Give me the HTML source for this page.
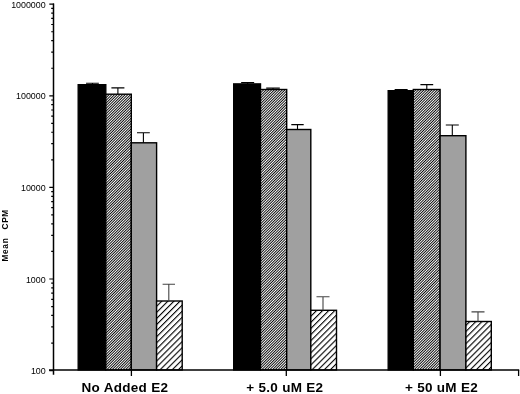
<!DOCTYPE html>
<html><head><meta charset="utf-8"><style>html,body{margin:0;padding:0;background:#fff;width:520px;height:394px;overflow:hidden}svg{display:block;will-change:transform}text{font-family:"Liberation Sans",sans-serif}</style></head>
<body><svg width="520" height="394" viewBox="0 0 520 394"><defs>
<pattern id="fine" patternUnits="userSpaceOnUse" width="1.89" height="1.89" patternTransform="rotate(45)"><rect x="0" y="0" width="0.92" height="1.89" fill="#000"/></pattern>
<pattern id="wide" patternUnits="userSpaceOnUse" width="4.3" height="4.3" patternTransform="rotate(45)"><rect x="0" y="0" width="1.1" height="4.3" fill="#000"/></pattern>
</defs>
<rect x="78.20" y="84.70" width="27.60" height="285.25" fill="#fff"/>
<rect x="78.20" y="84.70" width="27.60" height="285.25" fill="#000" stroke="#000" stroke-width="1.4"/>
<rect x="105.80" y="94.20" width="25.50" height="275.75" fill="#fff"/>
<rect x="105.80" y="94.20" width="25.50" height="275.75" fill="url(#fine)" stroke="#000" stroke-width="1.4"/>
<rect x="131.30" y="142.80" width="25.30" height="227.15" fill="#fff"/>
<rect x="131.30" y="142.80" width="25.30" height="227.15" fill="#a0a0a0" stroke="#000" stroke-width="1.4"/>
<rect x="156.60" y="301.00" width="25.60" height="68.95" fill="#fff"/>
<rect x="156.60" y="301.00" width="25.60" height="68.95" fill="url(#wide)" stroke="#000" stroke-width="1.4"/>
<rect x="233.70" y="83.90" width="26.80" height="286.05" fill="#fff"/>
<rect x="233.70" y="83.90" width="26.80" height="286.05" fill="#000" stroke="#000" stroke-width="1.4"/>
<rect x="260.50" y="89.50" width="26.20" height="280.45" fill="#fff"/>
<rect x="260.50" y="89.50" width="26.20" height="280.45" fill="url(#fine)" stroke="#000" stroke-width="1.4"/>
<rect x="286.70" y="129.50" width="24.10" height="240.45" fill="#fff"/>
<rect x="286.70" y="129.50" width="24.10" height="240.45" fill="#a0a0a0" stroke="#000" stroke-width="1.4"/>
<rect x="310.80" y="310.30" width="25.70" height="59.65" fill="#fff"/>
<rect x="310.80" y="310.30" width="25.70" height="59.65" fill="url(#wide)" stroke="#000" stroke-width="1.4"/>
<rect x="388.20" y="90.70" width="25.10" height="279.25" fill="#fff"/>
<rect x="388.20" y="90.70" width="25.10" height="279.25" fill="#000" stroke="#000" stroke-width="1.4"/>
<rect x="413.30" y="89.50" width="26.80" height="280.45" fill="#fff"/>
<rect x="413.30" y="89.50" width="26.80" height="280.45" fill="url(#fine)" stroke="#000" stroke-width="1.4"/>
<rect x="440.10" y="135.70" width="25.80" height="234.25" fill="#fff"/>
<rect x="440.10" y="135.70" width="25.80" height="234.25" fill="#a0a0a0" stroke="#000" stroke-width="1.4"/>
<rect x="465.90" y="321.50" width="25.40" height="48.45" fill="#fff"/>
<rect x="465.90" y="321.50" width="25.40" height="48.45" fill="url(#wide)" stroke="#000" stroke-width="1.4"/>
<path d="M92.45 84.70V83.20M86.05 83.20H98.85" stroke="#000" stroke-width="1.1" fill="none"/>
<path d="M117.90 94.20V87.90M111.40 87.90H124.40" stroke="#000" stroke-width="1.1" fill="none"/>
<path d="M143.40 142.80V132.80M137.00 132.80H149.80" stroke="#000" stroke-width="1.1" fill="none"/>
<path d="M168.80 301.00V284.30M162.60 284.30H175.00" stroke="#444" stroke-width="1.1" fill="none"/>
<path d="M247.65 83.90V82.60M241.15 82.60H254.15" stroke="#000" stroke-width="1.1" fill="none"/>
<path d="M273.00 89.50V88.10M266.20 88.10H279.80" stroke="#000" stroke-width="1.1" fill="none"/>
<path d="M297.50 129.50V124.60M291.30 124.60H303.70" stroke="#000" stroke-width="1.1" fill="none"/>
<path d="M323.00 310.30V296.80M316.50 296.80H329.50" stroke="#444" stroke-width="1.1" fill="none"/>
<path d="M401.15 90.70V89.50M394.65 89.50H407.65" stroke="#000" stroke-width="1.1" fill="none"/>
<path d="M426.80 89.50V84.60M420.40 84.60H433.20" stroke="#000" stroke-width="1.1" fill="none"/>
<path d="M452.30 135.70V125.00M445.80 125.00H458.80" stroke="#000" stroke-width="1.1" fill="none"/>
<path d="M478.00 321.50V311.90M471.50 311.90H484.50" stroke="#444" stroke-width="1.1" fill="none"/>
<path d="M53.5 3.6V374.8" stroke="#000" stroke-width="1.5" fill="none"/>
<path d="M49.0 369.95H519.2" stroke="#000" stroke-width="1.5" fill="none"/>
<path d="M131.4 369.95V376" stroke="#000" stroke-width="1.3" fill="none"/>
<path d="M286.3 369.95V376" stroke="#000" stroke-width="1.3" fill="none"/>
<path d="M440.4 369.95V376" stroke="#000" stroke-width="1.3" fill="none"/>
<path d="M518.6 369.95V376" stroke="#000" stroke-width="1.3" fill="none"/>
<path d="M49.3 370.60H54M51.2 343.03H54M51.2 326.90H54M51.2 315.45H54M51.2 306.57H54M51.2 299.32H54M51.2 293.19H54M51.2 287.88H54M51.2 283.19H54M49.3 279.00H54M51.2 251.43H54M51.2 235.30H54M51.2 223.85H54M51.2 214.97H54M51.2 207.72H54M51.2 201.59H54M51.2 196.28H54M51.2 191.59H54M49.3 187.40H54M51.2 159.83H54M51.2 143.70H54M51.2 132.25H54M51.2 123.37H54M51.2 116.12H54M51.2 109.99H54M51.2 104.68H54M51.2 99.99H54M49.3 95.80H54M51.2 68.23H54M51.2 52.10H54M51.2 40.65H54M51.2 31.77H54M51.2 24.52H54M51.2 18.39H54M51.2 13.08H54M51.2 8.39H54M49.3 4.20H54" stroke="#000" stroke-width="1.2" fill="none"/>
<text x="45.7" y="7.70" text-anchor="end" font-family="Liberation Sans" font-size="8.9">1000000</text>
<text x="45.7" y="99.30" text-anchor="end" font-family="Liberation Sans" font-size="8.9">100000</text>
<text x="45.7" y="190.90" text-anchor="end" font-family="Liberation Sans" font-size="8.9">10000</text>
<text x="45.7" y="282.50" text-anchor="end" font-family="Liberation Sans" font-size="8.9">1000</text>
<text x="45.7" y="374.10" text-anchor="end" font-family="Liberation Sans" font-size="8.9">100</text>
<text transform="translate(7.9,249.6) rotate(-90)" text-anchor="middle" font-family="Liberation Sans" font-weight="bold" font-size="8.3" letter-spacing="0.7">Mean</text>
<text transform="translate(7.9,219.3) rotate(-90)" text-anchor="middle" font-family="Liberation Sans" font-weight="bold" font-size="8.3" letter-spacing="0.7">CPM</text>
<text x="124.9" y="392.2" text-anchor="middle" font-family="Liberation Sans" font-weight="bold" font-size="13.5" letter-spacing="0.3">No Added E2</text>
<text x="284.8" y="392.2" text-anchor="middle" font-family="Liberation Sans" font-weight="bold" font-size="13.5" letter-spacing="0.3">+ 5.0 uM E2</text>
<text x="441.5" y="392.2" text-anchor="middle" font-family="Liberation Sans" font-weight="bold" font-size="13.5" letter-spacing="0.3">+ 50 uM E2</text></svg></body></html>
